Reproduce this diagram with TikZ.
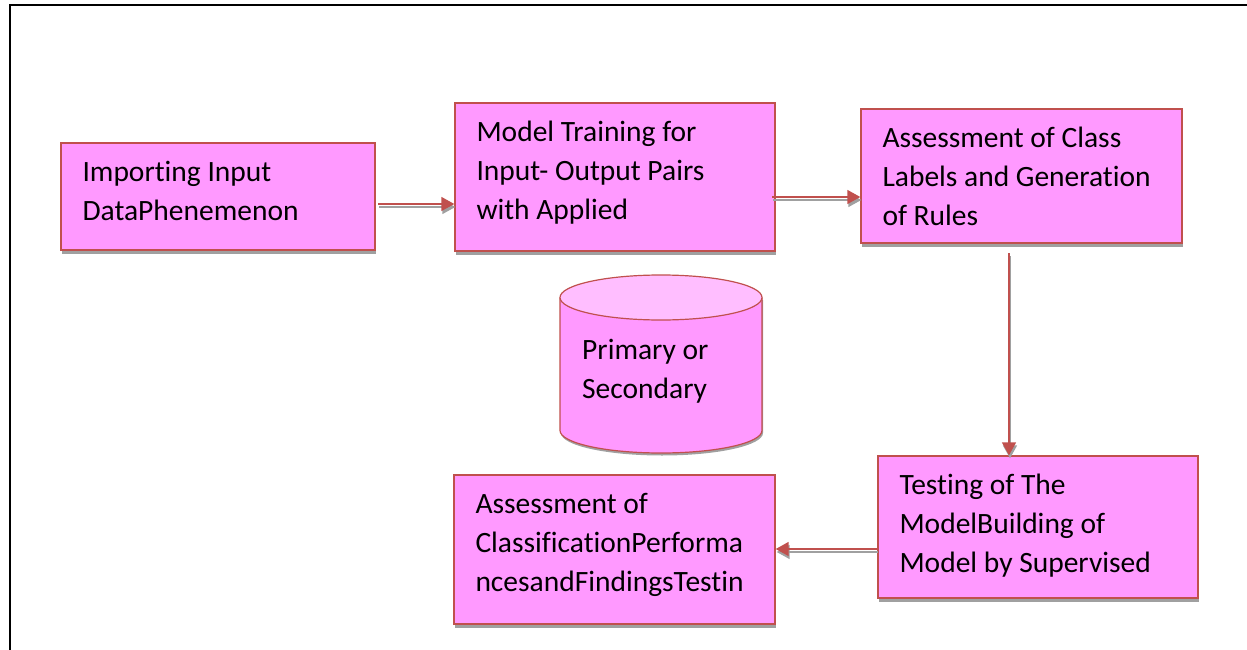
\documentclass[tikz,border=0pt]{standalone}
\usepackage{fontspec}
\setmainfont{Carlito}[Ligatures=NoCommon]
\usetikzlibrary{shadows,arrows.meta,calc}
\definecolor{bpink}{RGB}{255,153,255}
\definecolor{bpinklight}{RGB}{255,190,255}
\definecolor{bred}{RGB}{192,80,77}
\definecolor{shgray}{RGB}{160,160,160}
\begin{document}
\begin{tikzpicture}[x=1pt,y=-1pt,
  box/.style={draw=bred, fill=bpink, line width=1.4pt, inner sep=0pt,
    drop shadow={shadow xshift=1pt, shadow yshift=-4pt, fill=shgray, opacity=1}},
  txt/.style={anchor=north west, align=left, inner sep=0pt, font=\fontsize{29.5}{39}\selectfont},
  arr/.style={draw=bred, line width=1.6pt, -{Triangle[length=13pt,width=14pt]}, fill=bred},
  arrsh/.style={draw=shgray, line width=1.6pt, -{Triangle[length=13pt,width=14pt]}, fill=shgray,
    transform canvas={xshift=1pt,yshift=-3pt}}]
\useasboundingbox (0,0) rectangle (1247,650);
% frame
\draw[line width=2.4pt] (10,650) -- (10,5) -- (1247,5);
% boxes
\node[box, minimum width=314pt, minimum height=107pt] (b1) at (218,196.5) {};
\node[box, minimum width=320pt, minimum height=148pt] (b2) at (615,177) {};
\node[box, minimum width=321pt, minimum height=134pt] (b3) at (1021.5,176) {};
\node[box, minimum width=320pt, minimum height=142pt] (b4) at (1038,527) {};
\node[box, minimum width=321pt, minimum height=149pt] (b5) at (614.5,549.5) {};
\node[txt] (t1) at ($(b1.north west)+(22,19)$) {Importing Input\\DataPhenemenon};
\node[txt] (t2) at ($(b2.north west)+(22,19)$) {Model Training for\\Input- Output Pairs\\with Applied};
\node[txt] (t3) at ($(b3.north west)+(22,19)$) {Assessment of Class\\Labels and Generation\\of Rules};
\node[txt] (t4) at ($(b4.north west)+(22,19)$) {Testing of The\\ModelBuilding of\\Model by Supervised};
\node[txt] (t5) at ($(b5.north west)+(22,19)$) {Assessment of\\ClassificationPerforma\\ncesandFindingsTestin};
% cylinder
\fill[shgray] (561,300) -- (561,433) arc[start angle=180,end angle=0,x radius=101,y radius=22.5] -- (763,300) -- cycle;
\draw[bred, fill=bpink, line width=1.2pt] (560,297.5) -- (560,430.5) arc[start angle=180,end angle=0,x radius=101,y radius=22.5] -- (762,297.5);
\draw[bred, fill=bpinklight, line width=1.2pt] (661,297.5) ellipse[x radius=101,y radius=22.5];
\node[txt] (db) at (582,339) {Primary or\\Secondary};
% arrows
\coordinate (a1s) at (378,204);
\coordinate (a2s) at (772,197);
\coordinate (a3s) at (1009,253);
\coordinate (a4s) at (877,549);
\draw[arrsh] (a1s) -- (a1s -| b2.west);
\draw[arr] (a1s) -- (a1s -| b2.west);
\draw[arrsh] (a2s) -- (a2s -| b3.west);
\draw[arr] (a2s) -- (a2s -| b3.west);
\draw[arrsh] (a3s) -- (a3s |- b4.north);
\draw[arr] (a3s) -- (a3s |- b4.north);
\draw[arrsh] (a4s) -- (a4s -| b5.east);
\draw[arr] (a4s) -- (a4s -| b5.east);
\end{tikzpicture}
\end{document}
